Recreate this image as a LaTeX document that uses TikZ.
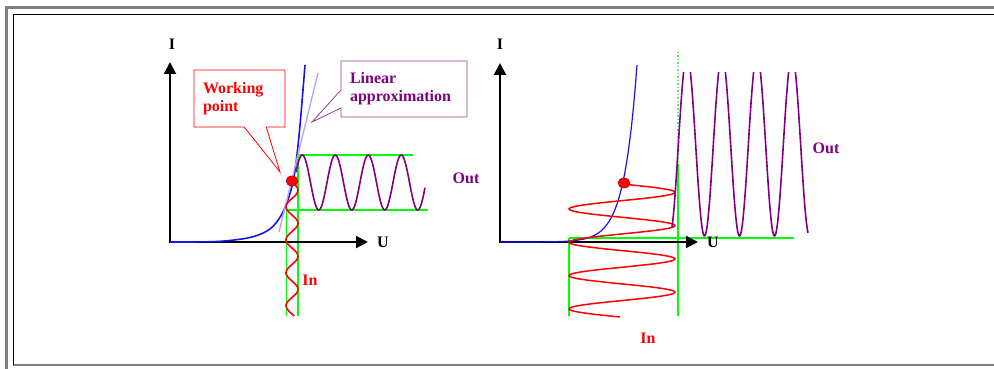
\documentclass[tikz,border=0pt]{standalone}
\usepackage{fontspec}
\setmainfont{Liberation Serif}
\usetikzlibrary{arrows.meta,positioning,shapes.callouts}

\definecolor{framegray}{RGB}{128,128,128}
\definecolor{curveblue}{RGB}{20,20,240}
\definecolor{sigred}{RGB}{255,0,0}
\definecolor{sigpurple}{RGB}{128,0,128}
\definecolor{boxpurple}{RGB}{150,60,150}
\definecolor{tanlilac}{RGB}{190,165,250}
\definecolor{levelgreen}{RGB}{0,255,0}
\definecolor{dotgreen}{RGB}{90,240,90}

\begin{document}
\begin{tikzpicture}[
x=1pt, y=-1pt,
axis/.style={black, line width=2pt, {Triangle[length=12pt,width=12pt]}-{Triangle[length=12pt,width=12pt]}},
lab/.style={inner sep=0pt, font=\fontsize{16}{18}\selectfont\bfseries},
level/.style={levelgreen, line width=2pt},
wave/.style={line width=1.6pt},
note/.style={rectangle callout, fill=white, line width=0.8pt, align=left, minimum height=57pt,
  inner xsep=9pt, font=\fontsize{16}{18}\selectfont\bfseries},
wpdot/.style={draw=red!70!black, fill=sigred, line width=0.6pt}
]
\useasboundingbox (0,0) rectangle (994,369);

% frame
\draw[framegray, line width=3pt] (6.5,369) |- (994,8);
\draw[framegray, line width=1.5pt] (13,365) -- (994,365);
\draw[black, line width=1pt] (13,365) |- (994,15);

% left: small signal
\coordinate (ytop1) at (170,62);
\coordinate (xend1) at (368,242);
\coordinate (wp1) at (292,181);
\coordinate (wptip1) at (280,172);
\coordinate (lintip1) at (312,122);

\draw[level] (296,155) -- (413,155);
\draw[level] (286,210) -- (428,210);
\draw[level] (298,155) -- (298,316);
\draw[levelgreen, line width=1pt] (286,210) -- (286,316);
\draw[axis] (ytop1) |- (xend1);
\draw[curveblue, line width=1.6pt] plot[smooth] coordinates
  {(170,242) (217,241.5) (250,237.5) (270,229) (283,212) (293,182) (299,136) (305,65)};
\draw[tanlilac, line width=1.4pt] (279,232) -- (318,73);
\draw[wave, sigred] plot[domain=182:316, samples=120] ({292+6*sin(10.9091*(\x-182))}, \x);
\draw[wave, sigpurple] plot[domain=296:425, samples=160] (\x, {182.5-27.5*sin(10.9091*(\x-294))});
\filldraw[wpdot] (wp1) ellipse [x radius=6, y radius=5];

\node[lab] (i1) at (172,44) {I};
\node[lab, right=9pt of xend1] (u1) {U};
\node[lab, sigpurple] (out1) at (466,178) {Out};
\node[lab, sigred] (in1) at (310,280) {In};
\node[note, draw=sigred, text=sigred, text width=73pt, callout absolute pointer=(wptip1),
  callout pointer width=22pt] (wpnote) at (239.5,98.5) {Working\\point};
\node[note, draw=boxpurple, text=sigpurple, text width=108pt, minimum height=56pt,
  callout absolute pointer=(lintip1), callout pointer width=18pt] (linnote) at (404,89) {Linear\\approximation};

% right: large signal
\coordinate (ytop2) at (500,63);
\coordinate (xend2) at (698,242);
\coordinate (wp2) at (624,183);

\draw[level] (569,238) -- (794,238);
\draw[level] (569,238) -- (569,316);
\draw[level] (678,165) -- (678,316);
\draw[dotgreen, line width=1.5pt, dotted] (678,52) -- (678,165);
\draw[axis] (ytop2) |- (xend2);
\draw[curveblue, line width=1.2pt] plot[domain=500:637, samples=80] (\x, {242-177*exp(0.077*(\x-637))});
\draw[sigred, line width=1.5pt] plot[domain=184:317, samples=220] ({622+53*sin(10.8108*(\x-184))}, \x);
\begin{scope}
\clip (660,73) rectangle (820,250);
\draw[wave, sigpurple] plot[domain=672:808, samples=300] (\x, {236-90*(1-cos(10.2857*(\x-669.5)))});
\end{scope}
\filldraw[wpdot] (wp2) ellipse [x radius=6, y radius=5];

\node[lab] (i2) at (500,44) {I};
\node[lab, right=9pt of xend2] (u2) {U};
\node[lab, sigpurple] (out2) at (826,148) {Out};
\node[lab, sigred] (in2) at (648,338) {In};
\end{tikzpicture}
\end{document}
